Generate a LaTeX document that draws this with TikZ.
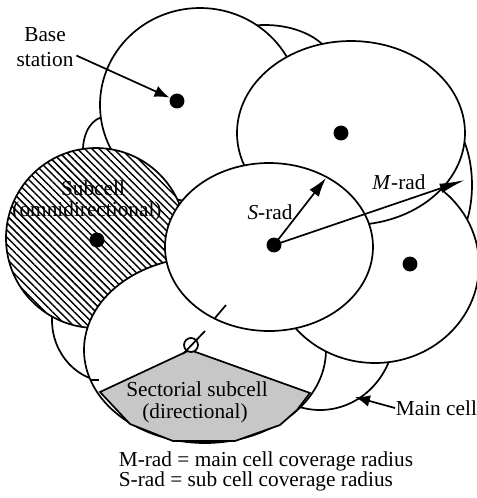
\documentclass[tikz,border=0pt]{standalone}
\usepackage{fontspec}
\setmainfont{Liberation Serif}
\usetikzlibrary{arrows.meta, calc, patterns.meta}
\definecolor{SubGray}{gray}{0.78}
\tikzset{
  cell/.style={draw, fill=white, line width=0.8pt},
  bsdot/.style={circle, fill=black, inner sep=0pt, minimum size=7pt},
  lbl/.style={inner sep=1pt},
  pointer/.style={line width=0.8pt, -{Latex[length=7pt, width=5.5pt]}},
}

\begin{document}
\begin{tikzpicture}[x=0.0165cm, y=-0.0165cm, line width=0.8pt]
    \useasboundingbox (0,0) rectangle (477,498);

    % Main cells lying behind
    \draw[cell] (105,150) ellipse [x radius=22, y radius=33];
    \draw[cell] (265,70) ellipse [x radius=70, y radius=45];
    \draw[cell] (430,185) ellipse [x radius=42, y radius=75];
    \draw[cell] (110,320) ellipse [x radius=58, y radius=62];
    \draw[cell] (320,330) ellipse [x radius=75, y radius=80];

    % Cell with the base station
    \draw[cell] (200,105) ellipse [x radius=100, y radius=97];
    \node[bsdot] (dotA) at (177,101) {};
    \node[lbl, align=center] (lblBS) at (45,47) {Base\\station};

    % Omnidirectional subcell
    \draw[line width=0.8pt, preaction={fill=white},
          pattern={Lines[angle=-45, distance=2.4pt, line width=0.7pt]}]
          (96,238) circle [radius=90];
    \node[lbl] (lblSub) at (93,188) {Subcell};
    \node[lbl] (lblOmni) at (87,211) {(omnidirectional)};
    \node[bsdot] (dotF) at (97,240) {};

    % Cell with the sectorial subcell
    \draw[cell] (205,350) ellipse [x radius=121, y radius=93];
    \filldraw[fill=SubGray] (100,392) -- (190,350) -- (310,393) -- (297,410)
        -- (280,425) -- (235,441) -- (173,441) -- (130,424) -- cycle;
    \node[lbl] (lblSect) at (197,389) {Sectorial subcell};
    \node[lbl] (lblDir) at (195,413) {(directional)};
    \draw[fill=white] (191,345) circle [radius=7];
    \draw (183,354) -- (205,331);
    \draw (91,380) -- (99,380);

    % Right cell
    \draw[cell] (375,265) ellipse [x radius=104, y radius=98];
    \node[bsdot] (dotC) at (410,264) {};

    % Upper right cell
    \draw[cell] (351,133) ellipse [x radius=114, y radius=92];
    \node[bsdot] (dotB) at (341,133) {};

    % Centre cell
    \draw[cell] (269,247) ellipse [x radius=104, y radius=84];
    \node[bsdot] (dotD) at (274,245) {};
    \draw (215,318) -- (226,305);

    % Radii
    \coordinate (sTip) at (326,178);
    \coordinate (mTip) at (465,180);
    \node[lbl] (lblS) at (270,212) {\textit{S}-rad};
    \node[lbl] (lblM) at (399,182) {\textit{M}-rad};
    \draw[line width=0.8pt, -{Latex[length=9pt, width=5.5pt]}] (dotD.center) -- (sTip);
    \draw[line width=0.8pt, -{Latex[length=12pt, width=4.5pt]}] (dotD.center) -- (mTip);

    % Pointers
    \draw[pointer] ([yshift=-4pt]lblBS.east) -- (dotA);
    \node[inner sep=0pt, anchor=west] (lblMain) at (395,408) {Main cell};
    \coordinate (mcTip) at (355,397);
    \draw[pointer] (lblMain.west) -- (mcTip);

    % Legend
    \node[anchor=west, inner sep=0pt] (legM) at (118,461) {M-rad = main cell coverage radius};
    \node[anchor=west, inner sep=0pt] (legS) at (118,481) {S-rad = sub cell coverage radius};
\end{tikzpicture}
\end{document}
